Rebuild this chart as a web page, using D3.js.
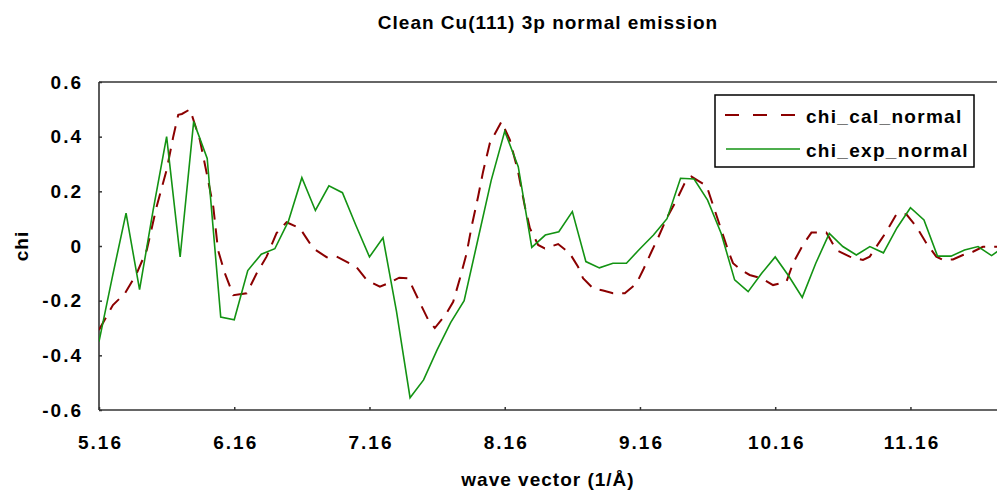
<!DOCTYPE html>
<html>
<head>
<meta charset="utf-8">
<script src="https://cdn.jsdelivr.net/npm/d3@7"></script>
<style>
  html, body { margin: 0; padding: 0; background: #fff; }
  svg { display: block; }
  text { font-family: "Liberation Sans", Arial, sans-serif; font-weight: bold; fill: #000; }
</style>
</head>
<body>
<svg id="chart" width="997" height="490"></svg>
<script>
const chartTitle = "Clean Cu(111) 3p normal emission";
const xTitle = "wave vector (1/Å)";
const yTitle = "chi";
const seriesNames = ["chi_cal_normal", "chi_exp_normal"];

const xTicks = [5.16, 6.16, 7.16, 8.16, 9.16, 10.16, 11.16];
const yTicks = [-0.6, -0.4, -0.2, 0, 0.2, 0.4, 0.6];
const yTickLabels = ["-0.6", "-0.4", "-0.2", "0", "0.2", "0.4", "0.6"];

// calculated chi (dashed)
const kCal = [5.16, 5.263, 5.352, 5.439, 5.513, 5.586, 5.660, 5.709, 5.746, 5.773, 5.833, 5.906, 5.956, 6.005, 6.04,
  6.091, 6.153, 6.252, 6.326, 6.399, 6.473, 6.547, 6.646, 6.695, 6.742, 6.843, 6.917, 7.01, 7.065, 7.139,
  7.237, 7.311, 7.38, 7.446, 7.471, 7.545, 7.594, 7.643, 7.73, 7.779, 7.828, 7.878, 7.915, 7.963, 8.0,
  8.05, 8.136, 8.198, 8.259, 8.309, 8.346, 8.407, 8.456, 8.555, 8.641, 8.702, 8.739, 8.813, 8.887, 8.961,
  9.048, 9.134, 9.183, 9.245, 9.294, 9.356, 9.43, 9.49, 9.54, 9.653, 9.737, 9.811, 9.848, 9.91, 9.971,
  10.058, 10.144, 10.243, 10.292, 10.365, 10.428, 10.538, 10.612, 10.711, 10.809, 10.859, 10.933, 10.982, 11.056, 11.13,
  11.204, 11.278, 11.351, 11.40, 11.474, 11.548, 11.622, 11.696, 11.80];
const chiCal = [-0.307, -0.216, -0.173, -0.10, -0.015, 0.144, 0.278, 0.40, 0.48, 0.483, 0.50, 0.388, 0.267, 0.144, -0.015,
  -0.10, -0.18, -0.173, -0.10, -0.039, 0.047, 0.087, 0.065, 0.028, -0.008, -0.041, -0.039, -0.063, -0.078, -0.124,
  -0.149, -0.134, -0.116, -0.118, -0.143, -0.22, -0.27, -0.30, -0.246, -0.204, -0.12, -0.027, 0.071, 0.18, 0.272,
  0.376, 0.455, 0.388, 0.272, 0.144, 0.065, 0.004, -0.009, 0.007, -0.027, -0.076, -0.118, -0.155, -0.163, -0.173,
  -0.173, -0.137, -0.088, -0.021, 0.03, 0.10, 0.168, 0.229, 0.254, 0.22, 0.095, -0.015, -0.063, -0.088, -0.106,
  -0.118, -0.143, -0.131, -0.063, 0.004, 0.049, 0.049, -0.015, -0.039, -0.051, -0.039, 0.016, 0.052, 0.116, 0.116,
  0.071, 0.01, -0.039, -0.051, -0.049, -0.033, -0.021, -0.003, -0.003];

// experimental chi (solid)
const kExp = [5.16, 5.26, 5.36, 5.46, 5.56, 5.66, 5.76, 5.86, 5.96, 6.06, 6.16, 6.26, 6.36, 6.46, 6.56,
  6.66, 6.76, 6.86, 6.96, 7.06, 7.16, 7.26, 7.36, 7.46, 7.56, 7.66, 7.76, 7.86, 7.96, 8.06,
  8.16, 8.26, 8.36, 8.46, 8.56, 8.66, 8.76, 8.86, 8.96, 9.06, 9.16, 9.26, 9.36, 9.46, 9.56,
  9.66, 9.76, 9.86, 9.96, 10.06, 10.16, 10.26, 10.36, 10.46, 10.56, 10.66, 10.76, 10.86, 10.96, 11.06,
  11.16, 11.26, 11.36, 11.46, 11.56, 11.66, 11.76, 11.86];
const chiExp = [-0.35, -0.11, 0.12, -0.16, 0.13, 0.40, -0.04, 0.455, 0.32, -0.26, -0.27, -0.09, -0.03, -0.01, 0.09,
  0.25, 0.13, 0.22, 0.195, 0.075, -0.04, 0.03, -0.24, -0.555, -0.49, -0.38, -0.28, -0.20, 0.02, 0.24,
  0.42, 0.29, -0.005, 0.04, 0.052, 0.126, -0.057, -0.08, -0.063, -0.063, -0.01, 0.04, 0.10, 0.248, 0.245,
  0.168, 0.047, -0.124, -0.167, -0.10, -0.04, -0.11, -0.188, -0.063, 0.046, -0.002, -0.033, -0.002, -0.025, 0.066,
  0.14, 0.095, -0.037, -0.037, -0.015, -0.002, -0.035, 0.0];

const svg = d3.select("#chart");
const plotL = 99, plotR = 997, plotT = 82, plotB = 410;

const x = d3.scaleLinear().domain([5.16, 11.8]).range([plotL, plotR]);
const y = d3.scaleLinear().domain([-0.6, 0.6]).range([plotB, plotT]);

svg.append("rect").attr("width", 997).attr("height", 490).attr("fill", "#fff");

svg.append("defs").append("clipPath").attr("id", "clip")
  .append("rect").attr("x", plotL).attr("y", plotT - 5).attr("width", plotR - plotL).attr("height", plotB - plotT + 10);

// title
svg.append("text").attr("x", 548).attr("y", 29).attr("text-anchor", "middle")
  .style("font-size", "19px").style("letter-spacing", "1px").text(chartTitle);

// axes
const xAxis = d3.axisBottom(x).tickValues(xTicks).tickSize(-3).tickPadding(0).tickFormat(d3.format(".2f"));
const gx = svg.append("g").attr("transform", `translate(0,${plotB})`).call(xAxis);
gx.select(".domain").remove();
gx.selectAll(".tick line").attr("stroke", "#333").attr("stroke-width", 1.5);
gx.selectAll(".tick text").attr("y", 39).attr("dy", null)
  .style("font-size", "19px").style("letter-spacing", "2px").attr("dx", 1);

const yAxis = d3.axisLeft(y).tickValues(yTicks).tickSize(-3).tickPadding(0)
  .tickFormat((d, i) => yTickLabels[i]);
const gy = svg.append("g").attr("transform", `translate(${plotL},0)`).call(yAxis);
gy.select(".domain").remove();
gy.selectAll(".tick line").attr("stroke", "#333").attr("stroke-width", 1.5);
gy.selectAll(".tick text").attr("x", -16).attr("dy", "6px")
  .style("font-size", "19px").style("letter-spacing", "2px");

// frame
svg.append("line").attr("x1", plotL).attr("x2", plotR).attr("y1", plotT).attr("y2", plotT)
  .attr("stroke", "#333").attr("stroke-width", 1.6);
svg.append("line").attr("x1", plotL).attr("x2", plotR).attr("y1", plotB).attr("y2", plotB)
  .attr("stroke", "#333").attr("stroke-width", 1.6);
svg.append("line").attr("x1", plotL).attr("x2", plotL).attr("y1", plotT).attr("y2", plotB)
  .attr("stroke", "#333").attr("stroke-width", 1.6);

// axis titles
svg.append("text").attr("x", 548).attr("y", 486).attr("text-anchor", "middle")
  .style("font-size", "19px").style("letter-spacing", "1px").text(xTitle);
svg.append("text").attr("transform", "translate(28,246) rotate(-90)").attr("text-anchor", "middle")
  .style("font-size", "19px").style("letter-spacing", "1px").text(yTitle);

const line = d3.line().x(d => x(d[0])).y(d => y(d[1]));
const calData = kCal.map((k, i) => [k, chiCal[i]]);
const expData = kExp.map((k, i) => [k, chiExp[i]]);

const g = svg.append("g").attr("clip-path", "url(#clip)");
g.append("path").datum(calData).attr("d", line).attr("fill", "none")
  .attr("stroke", "#8b0000").attr("stroke-width", 2).attr("stroke-dasharray", "14,9");
g.append("path").datum(expData).attr("d", line).attr("fill", "none")
  .attr("stroke", "#139313").attr("stroke-width", 1.6);

// legend
const lg = svg.append("g");
lg.append("rect").attr("x", 715).attr("y", 95).attr("width", 259).attr("height", 72)
  .attr("fill", "#fff").attr("stroke", "#000").attr("stroke-width", 1.5);
lg.append("line").attr("x1", 725).attr("x2", 800).attr("y1", 115).attr("y2", 115)
  .attr("stroke", "#8b0000").attr("stroke-width", 2).attr("stroke-dasharray", "14,14");
lg.append("line").attr("x1", 726).attr("x2", 800).attr("y1", 149).attr("y2", 149)
  .attr("stroke", "#139313").attr("stroke-width", 1.6);
lg.append("text").attr("x", 806).attr("y", 123).style("font-size", "19px").style("letter-spacing", "1.3px").text(seriesNames[0]);
lg.append("text").attr("x", 806).attr("y", 157).style("font-size", "19px").style("letter-spacing", "1.3px").text(seriesNames[1]);
</script>
</body>
</html>
